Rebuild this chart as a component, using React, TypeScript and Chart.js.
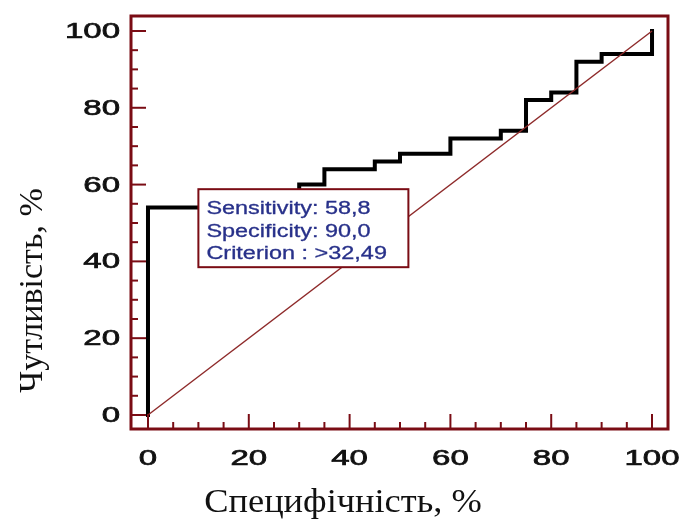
import { useEffect, useRef } from "react";
import { Chart, registerables } from "chart.js";

Chart.register(...registerables);

// ROC curve corner points (100 − specificity on x, sensitivity on y), in %
const specificity = [0, 0, 30, 35, 45, 50, 60, 70, 75, 80, 85, 90, 100];
const sensitivity = [0, 54, 60, 64, 66, 68, 72, 74, 82, 84, 92, 94, 100];

// Reference (chance) diagonal
const diagonalX = [0, 100];
const diagonalY = [0, 100];

// Axis ticks
const majorTicks = [0, 20, 40, 60, 80, 100];
const minorTicks = [5, 10, 15, 25, 30, 35, 45, 50, 55, 65, 70, 75, 85, 90, 95];

// Optimal cut-off annotation
const cutoffSensitivity = 58.8;
const cutoffSpecificity = 90.0;
const cutoffLines = ["Sensitivity: 58,8", "Specificity: 90,0", "Criterion : >32,49"];

const xTitle = "Специфічність, %";
const yTitle = "Чутливість, %";

const FRAME = "#7a0c14";
const TEXT_BLUE = "#28318a";

function wideText(
  ctx: CanvasRenderingContext2D,
  text: string,
  x: number,
  y: number,
  sx: number,
  align: CanvasTextAlign,
  weight = 0
) {
  ctx.save();
  ctx.translate(x, y);
  ctx.scale(sx, 1);
  ctx.textAlign = align;
  ctx.fillText(text, 0, 0);
  if (weight > 0) {
    ctx.strokeStyle = ctx.fillStyle;
    ctx.lineWidth = weight;
    ctx.strokeText(text, 0, 0);
  }
  ctx.restore();
}

const rocDecor = {
  id: "rocDecor",
  afterDatasetsDraw(chart: any) {
    const { ctx, chartArea: a } = chart;
    const xs = chart.scales.x;
    const ys = chart.scales.y;
    ctx.save();

    // cut-off box, anchored at the criterion point
    const bx = xs.getPixelForValue(100 - cutoffSpecificity);
    const by = ys.getPixelForValue(cutoffSensitivity);
    const bw = 210;
    const bh = 78;
    ctx.fillStyle = "#ffffff";
    ctx.fillRect(bx, by, bw, bh);
    ctx.strokeStyle = FRAME;
    ctx.lineWidth = 2;
    ctx.strokeRect(bx, by, bw, bh);
    ctx.fillStyle = TEXT_BLUE;
    ctx.font = '17.5px "Liberation Sans", Arial, sans-serif';
    ctx.textBaseline = "alphabetic";
    cutoffLines.forEach((t, i) => wideText(ctx, t, bx + 8, by + 25 + i * 22.4, 1.34, "left", 0.3));

    // plot frame
    ctx.strokeStyle = FRAME;
    ctx.lineWidth = 3;
    ctx.strokeRect(a.left, a.top, a.right - a.left, a.bottom - a.top);

    // inward tick marks on left and bottom edges
    ctx.lineWidth = 2;
    const tick = (v: number, len: number) => {
      const px = xs.getPixelForValue(v);
      ctx.beginPath();
      ctx.moveTo(px, a.bottom);
      ctx.lineTo(px, a.bottom - len);
      ctx.stroke();
      const py = ys.getPixelForValue(v);
      ctx.beginPath();
      ctx.moveTo(a.left, py);
      ctx.lineTo(a.left + len, py);
      ctx.stroke();
    };
    majorTicks.forEach((v) => tick(v, 15));
    minorTicks.forEach((v) => tick(v, 7));

    // tick labels
    ctx.fillStyle = "#111111";
    ctx.font = '22px "Liberation Sans", Arial, sans-serif';
    ctx.textBaseline = "middle";
    majorTicks.forEach((v) => {
      wideText(ctx, String(v), a.left - 11, ys.getPixelForValue(v) + 1, 1.5, "right", 0.7);
      wideText(ctx, String(v), xs.getPixelForValue(v), a.bottom + 30, 1.5, "center", 0.7);
    });

    // axis titles
    ctx.font = '34px "Liberation Serif", "Times New Roman", serif';
    ctx.textBaseline = "alphabetic";
    wideText(ctx, xTitle, a.left + 212, a.bottom + 83, 1.07, "center");
    ctx.save();
    ctx.translate(42, (a.top + a.bottom) / 2 + 68);
    ctx.rotate(-Math.PI / 2);
    ctx.textAlign = "center";
    ctx.fillText(yTitle, 0, 0);
    ctx.restore();

    ctx.restore();
  },
};

export default function App() {
  const canvasRef = useRef<HTMLCanvasElement | null>(null);

  useEffect(() => {
    const canvas = canvasRef.current;
    if (!canvas) return;
    const chart = new Chart(canvas, {
      type: "line",
      data: {
        datasets: [
          {
            label: "Reference",
            data: diagonalX.map((x, i) => ({ x, y: diagonalY[i] })),
            borderColor: "#8e2a2a",
            borderWidth: 1.5,
            pointRadius: 0,
            fill: false,
          },
          {
            label: "ROC",
            data: specificity.map((x, i) => ({ x, y: sensitivity[i] })),
            borderColor: "#000000",
            borderWidth: 4,
            pointRadius: 0,
            stepped: "before",
            fill: false,
            borderJoinStyle: "miter",
            borderCapStyle: "square",
          },
        ],
      },
      options: {
        animation: false,
        responsive: false,
        layout: { padding: { left: 131, right: 15, top: 16, bottom: 91 } },
        scales: {
          x: { type: "linear", display: false, min: -3.37, max: 103.17 },
          y: { type: "linear", display: false, min: -3.65, max: 103.9 },
        },
        plugins: {
          legend: { display: false },
          tooltip: { enabled: false },
        },
      },
      plugins: [rocDecor],
    });
    return () => chart.destroy();
  }, []);

  return (
    <div style={{ position: "absolute", left: 0, top: 0, width: 683, height: 520, background: "#ffffff" }}>
      <canvas ref={canvasRef} width={683} height={520} style={{ display: "block" }} />
    </div>
  );
}
